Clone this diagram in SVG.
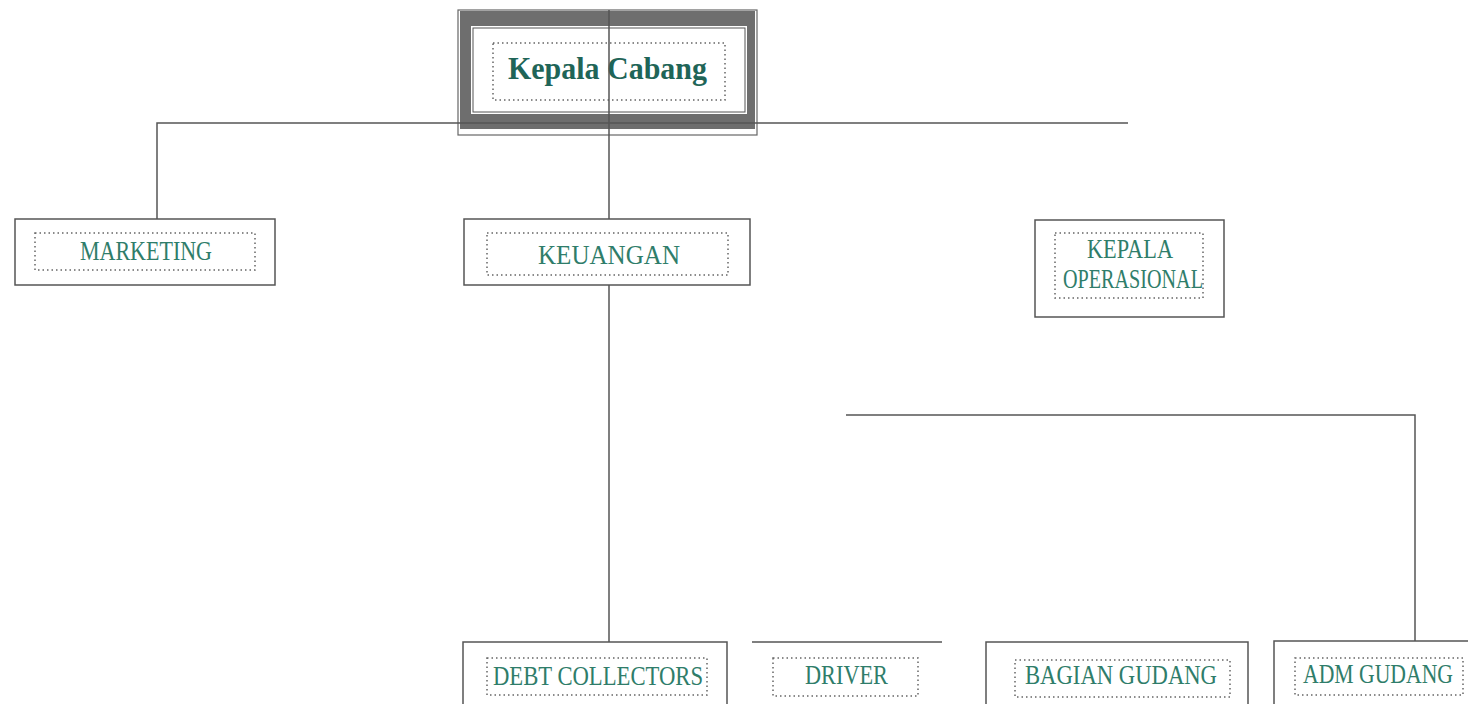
<svg xmlns="http://www.w3.org/2000/svg" width="1468" height="704" viewBox="0 0 1468 704">
<style>
.box{fill:#fff;stroke:#555;stroke-width:1.5}
.edge{fill:none;stroke:#555;stroke-width:1.5}
.dot{fill:none;stroke:#666;stroke-width:1.5;stroke-dasharray:1.5 3}
.lbl{font-family:"Liberation Serif","Times New Roman",serif;font-size:28px;fill:#2f7d6a}
.conn{fill:none;stroke:#555;stroke-width:1.5}
</style>
<rect width="1468" height="704" fill="#fff"/>
<g id="kepala-cabang">
<rect x="458" y="10" width="299" height="125" fill="#fff" stroke="#666" stroke-width="1.2"/>
<rect x="460" y="11" width="295" height="118" fill="#6e6e6e"/>
<rect x="471" y="26" width="276" height="88" fill="#fff"/>
<rect x="473" y="28" width="272" height="84" fill="none" stroke="#555" stroke-width="1"/>
<rect class="dot" x="493" y="43" width="232" height="57"/>
<text x="508" y="79" font-family="Liberation Serif,Times New Roman,serif" font-size="32" font-weight="bold" fill="#1f6558" textLength="199" lengthAdjust="spacingAndGlyphs">Kepala Cabang</text>
</g>
<g id="marketing">
<rect class="box" x="15" y="219" width="260" height="66"/>
<rect class="dot" x="35" y="233" width="220" height="37"/>
<text class="lbl" x="80" y="260" textLength="132" lengthAdjust="spacingAndGlyphs">MARKETING</text>
</g>
<g id="keuangan">
<rect class="box" x="464" y="219" width="286" height="66"/>
<rect class="dot" x="487" y="233" width="241" height="42"/>
<text class="lbl" x="538" y="264" textLength="142" lengthAdjust="spacingAndGlyphs">KEUANGAN</text>
</g>
<g id="kepala-operasional">
<rect class="box" x="1035" y="220" width="189" height="97"/>
<rect class="dot" x="1055" y="233" width="148" height="65"/>
<text class="lbl" x="1087" y="258" font-size="26" textLength="86" lengthAdjust="spacingAndGlyphs">KEPALA</text>
<text class="lbl" x="1063" y="288" font-size="26" textLength="140" lengthAdjust="spacingAndGlyphs">OPERASIONAL</text>
</g>
<g id="debt-collectors">
<path class="edge" d="M463,704 V642 H727 V704"/>
<rect class="dot" x="487" y="658" width="220" height="37"/>
<text class="lbl" x="493" y="685" textLength="210" lengthAdjust="spacingAndGlyphs">DEBT COLLECTORS</text>
</g>
<g id="driver">
<path class="edge" d="M752,642 H942"/>
<rect class="dot" x="773" y="658" width="145" height="38"/>
<text class="lbl" x="805" y="684" textLength="83" lengthAdjust="spacingAndGlyphs">DRIVER</text>
</g>
<g id="bagian-gudang">
<path class="edge" d="M986,704 V642 H1248 V704"/>
<rect class="dot" x="1015" y="660" width="215" height="37"/>
<text class="lbl" x="1025" y="684" textLength="192" lengthAdjust="spacingAndGlyphs">BAGIAN GUDANG</text>
</g>
<g id="adm-gudang">
<path class="edge" d="M1274,704 V641 H1468"/>
<rect class="dot" x="1295" y="658" width="168" height="37"/>
<text class="lbl" x="1303" y="683" textLength="150" lengthAdjust="spacingAndGlyphs">ADM GUDANG</text>
</g>
<g id="connectors">
<path class="conn" d="M157,219 V123 H1128"/>
<path class="conn" d="M609,10 V219"/>
<path class="conn" d="M609,285 V642"/>
<path class="conn" d="M846,415 H1415 V641"/>
</g>
</svg>
